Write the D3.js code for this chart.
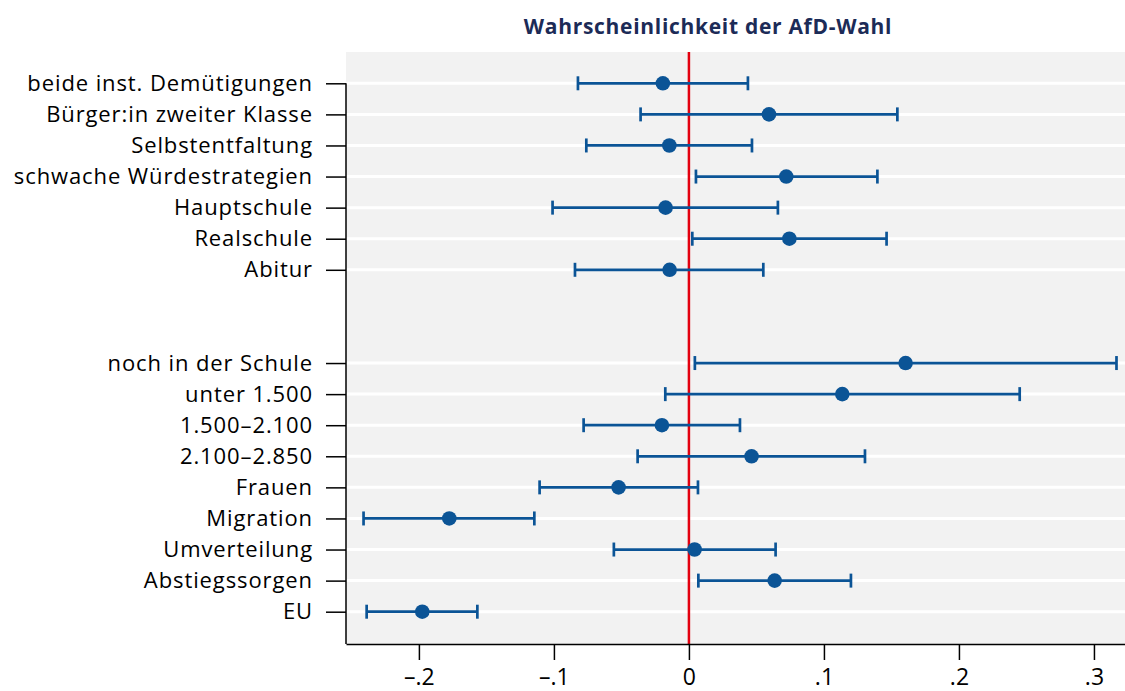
<!DOCTYPE html>
<html lang="de">
<head>
<meta charset="UTF-8">
<title>Wahrscheinlichkeit der AfD-Wahl</title>
<script src="https://d3js.org/d3.v7.min.js"></script>
<style>
  body { margin: 0; background: #fff; font-family: "Open Sans", sans-serif; }
  svg { display: block; }
</style>
</head>
<body>
<svg></svg>
<script>
  // rows from top to bottom; the two gap rows stay empty
  const rows = [
    "beide inst. Demütigungen", "Bürger:in zweiter Klasse", "Selbstentfaltung",
    "schwache Würdestrategien", "Hauptschule", "Realschule", "Abitur",
    "gap1", "gap2",
    "noch in der Schule", "unter 1.500", "1.500–2.100", "2.100–2.850",
    "Frauen", "Migration", "Umverteilung", "Abstiegssorgen", "EU"
  ];
  const labels = rows.filter(r => !r.startsWith("gap"));

  // estimates (same order as labels)
  const coef = [-0.0193, 0.0593, -0.0145, 0.0721, -0.0173, 0.0744, -0.0143,
                0.1605, 0.1136, -0.0200, 0.0464, -0.0521, -0.1775, 0.0042, 0.0635, -0.1975];
  const lower = [-0.0822, -0.0358, -0.0760, 0.0052, -0.1010, 0.0025, -0.0844,
                 0.0044, -0.0175, -0.0780, -0.0380, -0.1106, -0.2410, -0.0556, 0.0070, -0.2387];
  const upper = [0.0437, 0.1544, 0.0467, 0.1396, 0.0659, 0.1464, 0.0551,
                 0.3167, 0.2450, 0.0378, 0.1304, 0.0067, -0.1145, 0.0642, 0.1200, -0.1567];
  const xTicks = [-0.2, -0.1, 0, 0.1, 0.2, 0.3];

  const width = 1125, height = 691;
  const plot = { left: 346, right: 1125, top: 52, bottom: 644 };
  const blue = "#0b5496";
  const font = "Open Sans";

  const svg = d3.select("svg").attr("width", width).attr("height", height);

  const x = d3.scaleLinear().domain([-0.254, 0.323]).range([plot.left, plot.right]);
  const y = d3.scalePoint().domain(rows).range([83.3, 611.7]);

  const data = labels.map((l, i) => ({ label: l, b: coef[i], lo: lower[i], hi: upper[i] }));

  // background
  svg.append("rect")
    .attr("x", plot.left).attr("y", plot.top)
    .attr("width", plot.right - plot.left).attr("height", plot.bottom - plot.top)
    .attr("fill", "#f2f2f2");

  // white grid lines at each labelled row
  svg.append("g").selectAll("line").data(labels).join("line")
    .attr("x1", plot.left).attr("x2", plot.right)
    .attr("y1", d => y(d)).attr("y2", d => y(d))
    .attr("stroke", "#fff").attr("stroke-width", 3);

  // zero line
  svg.append("line")
    .attr("x1", x(0)).attr("x2", x(0))
    .attr("y1", plot.top).attr("y2", plot.bottom)
    .attr("stroke", "#e3000f").attr("stroke-width", 2.5);

  // x axis
  const fmt = d => d === 0 ? "0" : (d < 0 ? "\u2013" : "") + "." + Math.round(Math.abs(d) * 10);
  const xAxis = svg.append("g")
    .attr("transform", `translate(0,${plot.bottom})`)
    .call(d3.axisBottom(x).tickValues(xTicks).tickFormat(fmt).tickSize(16).tickSizeOuter(0).tickPadding(9));
  xAxis.select(".domain").attr("stroke", "#000").attr("stroke-width", 1.5);
  xAxis.selectAll(".tick line").attr("stroke", "#000").attr("stroke-width", 1.5);
  xAxis.selectAll("text").attr("font-size", 23).attr("font-family", font).attr("fill", "#000");

  // y axis
  const yAxis = svg.append("g")
    .attr("transform", `translate(${plot.left},0)`)
    .call(d3.axisLeft(y).tickValues(labels).tickSize(20).tickPadding(13));
  yAxis.select(".domain").remove();
  yAxis.selectAll(".tick line").attr("stroke", "#000").attr("stroke-width", 1.5);
  yAxis.selectAll("text").attr("font-size", 22).attr("font-family", font)
    .attr("letter-spacing", "0.9px").attr("fill", "#000");
  svg.append("line")
    .attr("x1", plot.left).attr("x2", plot.left)
    .attr("y1", y(labels[0])).attr("y2", plot.bottom)
    .attr("stroke", "#000").attr("stroke-width", 1.5);

  // error bars
  const bars = svg.append("g").selectAll("g").data(data).join("g")
    .attr("stroke", blue).attr("stroke-width", 2.7);
  bars.append("line")
    .attr("x1", d => x(d.lo)).attr("x2", d => x(d.hi))
    .attr("y1", d => y(d.label)).attr("y2", d => y(d.label));
  bars.append("line")
    .attr("x1", d => x(d.lo)).attr("x2", d => x(d.lo))
    .attr("y1", d => y(d.label) - 7).attr("y2", d => y(d.label) + 7);
  bars.append("line")
    .attr("x1", d => x(d.hi)).attr("x2", d => x(d.hi))
    .attr("y1", d => y(d.label) - 7).attr("y2", d => y(d.label) + 7);

  // point estimates
  svg.append("g").selectAll("circle").data(data).join("circle")
    .attr("cx", d => x(d.b)).attr("cy", d => y(d.label))
    .attr("r", 7.3).attr("fill", blue);

  // title
  svg.append("text")
    .attr("x", 708).attr("y", 34)
    .attr("text-anchor", "middle")
    .attr("font-family", font).attr("font-weight", "bold").attr("font-size", 21)
    .attr("letter-spacing", "0.7px")
    .attr("fill", "#1c2b57")
    .text("Wahrscheinlichkeit der AfD-Wahl");
</script>
</body>
</html>
